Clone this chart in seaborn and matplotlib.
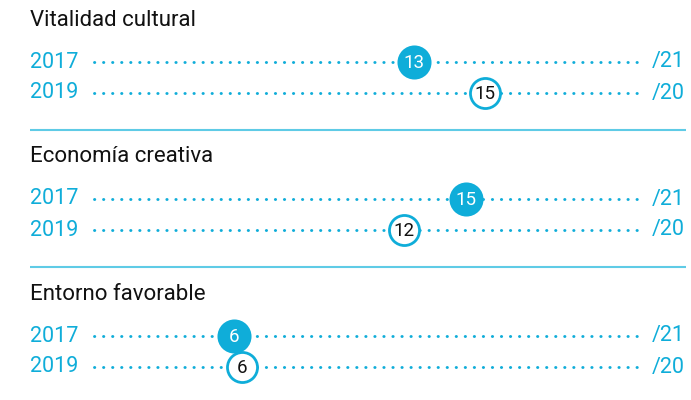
import matplotlib
matplotlib.use("Agg")
import matplotlib.pyplot as plt
import seaborn as sns
import pandas as pd

# data
sections = ["Vitalidad cultural", "Economía creativa", "Entorno favorable"]
years = ["2017", "2019"]
totals = [21, 20]
rank_2017 = [13, 15, 6]
rank_2019 = [15, 12, 6]

CYAN = "#0fadd9"
LINE = "#5fcbe6"

sns.set_theme(style="white")
plt.rcParams["font.family"] = ["Roboto", "DejaVu Sans"]

rows = []
for i, sec in enumerate(sections):
    for j, (yr, ranks) in enumerate(zip(years, [rank_2017, rank_2019])):
        rows.append({"section": sec, "year": yr, "rank": ranks[i],
                     "total": totals[j], "pos": ranks[i] / totals[j],
                     "y": 62 + 137 * i + 31 * j})
df = pd.DataFrame(rows)

fig = plt.figure(figsize=(6.91, 4.0), dpi=100)
ax = fig.add_axes([0, 0, 1, 1])
# 0 -> 80px, 1 -> 620px
ax.set_xlim(-80 / 540, 611 / 540)
ax.set_ylim(400, 0)
ax.axis("off")

# dotted guides
ax.hlines(df["y"], 14 / 540, 557 / 540, colors=CYAN, linestyles=(0, (0.1, 3.0)),
          linewidth=2.1, capstyle="round", zorder=1)

# markers
d17 = df[df["year"] == "2017"]
d19 = df[df["year"] == "2019"]
sns.scatterplot(data=d17, x="pos", y="y", s=34 ** 2 * 0.52, color=CYAN,
                edgecolor=CYAN, linewidth=0, ax=ax, zorder=3, legend=False)
sns.scatterplot(data=d19, x="pos", y="y", s=30 ** 2 * 0.52, color="white",
                edgecolor=CYAN, linewidth=2.0, ax=ax, zorder=3, legend=False)

for _, r in df.iterrows():
    ax.text(r["pos"], r["y"] + 1, str(r["rank"]), ha="center", va="center",
            fontsize=13.5, color="white" if r["year"] == "2017" else "#111111", zorder=4)
    ax.text(-50 / 540, r["y"], r["year"], ha="left", va="center",
            fontsize=15.5, color=CYAN)
    ax.text(572 / 540, r["y"], f"/{r['total']}", ha="left", va="center",
            fontsize=15.5, color=CYAN)

for i, sec in enumerate(sections):
    ax.text(-50 / 540, 20 + 137 * i, sec, ha="left", va="center",
            fontsize=16, color="#111111")
    if i < len(sections) - 1:
        ax.hlines(130 + 137 * i, -50 / 540, 606 / 540, colors=LINE, linewidth=1.5)

fig.savefig("out.png", dpi=100)
